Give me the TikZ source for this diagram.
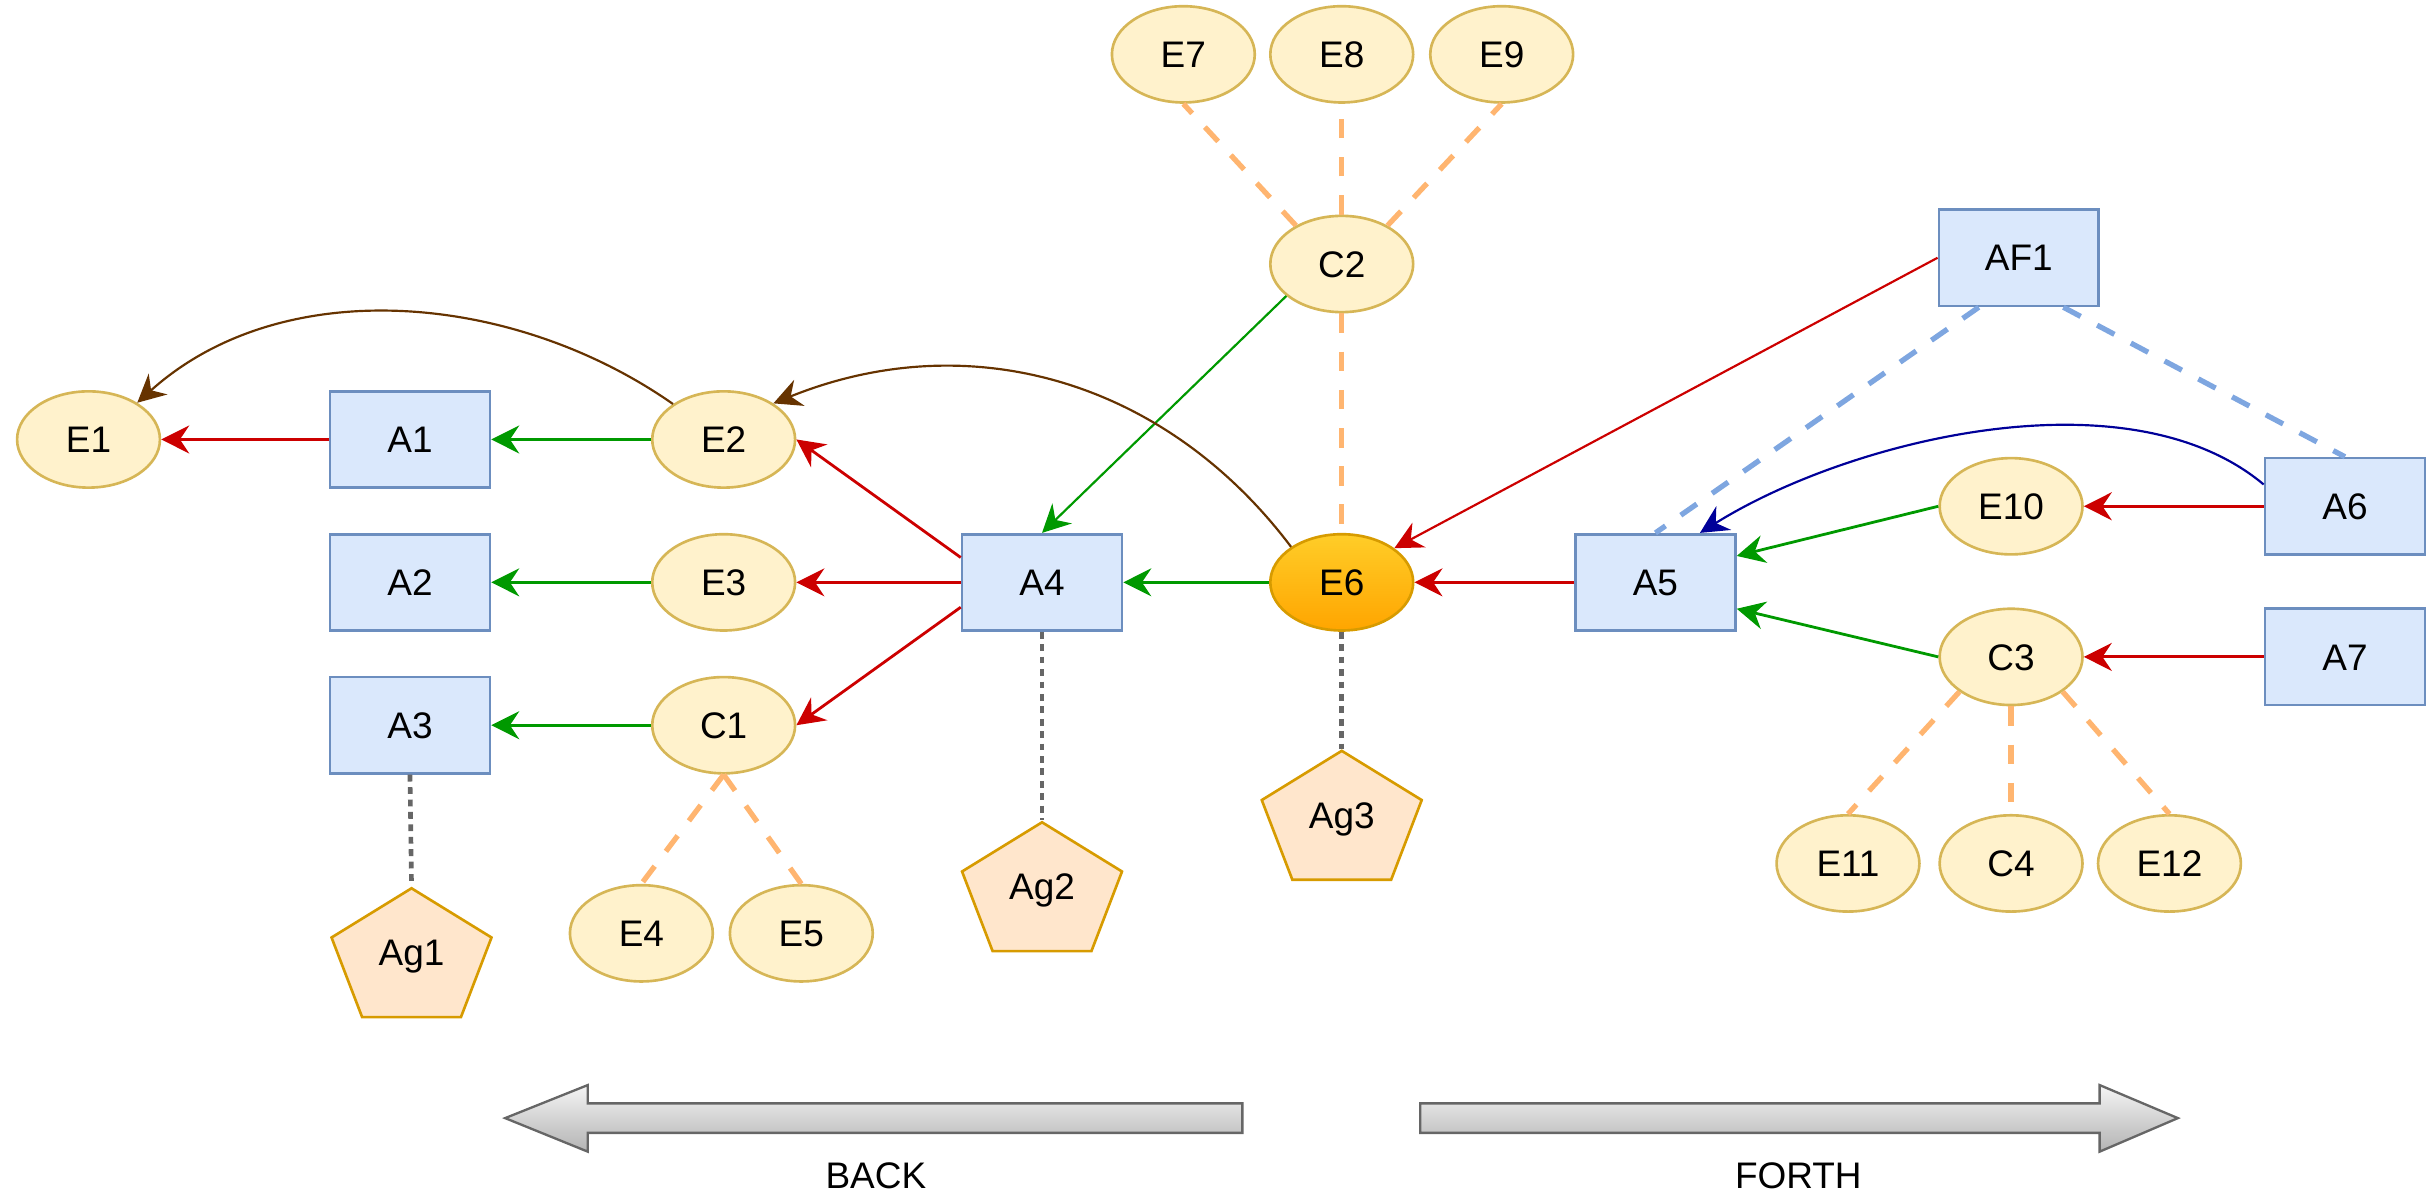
\documentclass[tikz,border=0pt]{standalone}
\usepackage{fontspec}
\setmainfont{Liberation Sans}
\usetikzlibrary{shapes.geometric}
\usetikzlibrary{positioning}
\usetikzlibrary{arrows.meta}

\definecolor{entfill}{HTML}{FFF2CC}
\definecolor{entline}{HTML}{D6B656}
\definecolor{actfill}{HTML}{DAE8FC}
\definecolor{actline}{HTML}{6C8EBF}
\definecolor{agfill}{HTML}{FFE6CC}
\definecolor{agline}{HTML}{D79B00}
\definecolor{hottop}{HTML}{FFCD28}
\definecolor{hotbot}{HTML}{FFA500}
\definecolor{arrred}{HTML}{CC0000}
\definecolor{arrgreen}{HTML}{009900}
\definecolor{arrbrown}{HTML}{663300}
\definecolor{arrblue}{HTML}{000099}
\definecolor{linkorange}{HTML}{FFB570}
\definecolor{linkblue}{HTML}{7EA6E0}
\definecolor{linkgray}{HTML}{666666}
\definecolor{bigtop}{HTML}{F5F5F5}
\definecolor{bigbot}{HTML}{B3B3B3}

\tikzset{node distance=46pt, % Distance between two rows
      every node/.style={ % Same text setting for each node
      font=\fontsize{11.9}{14}\selectfont,
      text height=8.5pt, text depth=0pt},
      ent/.style={ % Yellow ellipses
      ellipse, draw=entline, fill=entfill, line width=0.85pt,
      minimum width=46pt, minimum height=31pt, inner sep=0pt},
      hot/.style={ent, draw=agline, top color=hottop, bottom color=hotbot},
      act/.style={ % Blue boxes
      rectangle, draw=actline, fill=actfill, line width=0.85pt,
      minimum width=51.5pt, minimum height=31pt, inner sep=0pt},
      agent/.style={ % Pentagon drawn inside an invisible box
      rectangle, minimum width=52.4pt, minimum height=42.4pt, inner sep=0pt,
      path picture={\filldraw[draw=agline, fill=agfill, line width=0.85pt]
            ([yshift=20.75pt]path picture bounding box.center)
            -- ([shift={(25.75pt,4.9pt)}]path picture bounding box.center)
            -- ([shift={(15.9pt,-20.75pt)}]path picture bounding box.center)
            -- ([shift={(-15.9pt,-20.75pt)}]path picture bounding box.center)
            -- ([shift={(-25.75pt,4.9pt)}]path picture bounding box.center) -- cycle;}},
      every edge/.style={ % Sets the properties for each connector
            draw,
      ->,>={Stealth[length=9pt,width=9pt,inset=3pt]},
      line width=0.9pt},
      redarr/.style={draw=arrred},
      greenarr/.style={draw=arrgreen},
      thin/.style={line width=0.7pt},
      brownarr/.style={draw=arrbrown, thin},
      bluearr/.style={draw=arrblue, thin},
      orangelink/.style={-, draw=linkorange, line width=1.7pt, dash pattern=on 6.3pt off 6pt},
      bluelink/.style={-, draw=linkblue, line width=1.7pt, dash pattern=on 6.3pt off 6pt},
      graylink/.style={-, draw=linkgray, line width=1.5pt, dash pattern=on 2.2pt off 1.8pt},
      bigarrow/.style={top color=bigtop, bottom color=bigbot, draw=linkgray, line width=0.75pt}}

\begin{document}
\begin{tikzpicture}[x=0.5pt, y=0.5pt]
      \useasboundingbox (0,0) rectangle (1568,-770);
      % left part
      \node[ent] (E1) at (57,-283) {E1};
      \node[act] (A1) at (264,-283) {A1};
      \node[act, below of=A1] (A2) {A2};
      \node[act, below of=A2] (A3) {A3};
      \node[ent] (E2) at (466,-283) {E2};
      \node[ent, below of=E2] (E3) {E3};
      \node[ent, below of=E3] (C1) {C1};
      \node[ent] (E4) at (413,-601) {E4};
      \node[ent, right of=E4, node distance=51.5pt] (E5) {E5};
      \node[agent] (Ag1) at (265,-613.5) {Ag1};
      % middle part
      \node[act] (A4) at (671,-375) {A4};
      \node[agent] (Ag2) at (671,-571) {Ag2};
      \node[hot] (E6) at (864,-375) {E6};
      \node[agent] (Ag3) at (864,-525) {Ag3};
      \node[ent] (C2) at (864,-170) {C2};
      \node[ent] (E8) at (864,-35) {E8};
      \node[ent, left of=E8, node distance=51pt] (E7) {E7};
      \node[ent, right of=E8, node distance=51.5pt] (E9) {E9};
      % right part
      \node[act] (A5) at (1066,-375) {A5};
      \node[act] (AF1) at (1300,-166) {AF1};
      \node[ent] (E10) at (1295,-326) {E10};
      \node[act, right of=E10, node distance=107.5pt] (A6) {A6};
      \node[ent] (C3) at (1295,-423) {C3};
      \node[act, right of=C3, node distance=107.5pt] (A7) {A7};
      \node[ent] (C4) at (1295,-556) {C4};
      \node[ent, left of=C4, node distance=52.5pt] (E11) {E11};
      \node[ent, right of=C4, node distance=51pt] (E12) {E12};

      \draw (A1.west) edge[redarr] (E1.east)
            (E2.west) edge[greenarr] (A1.east)
            (E3.west) edge[greenarr] (A2.east)
            (C1.west) edge[greenarr] (A3.east)
            (A4.163) edge[redarr] (E2.east)
            (A4.west) edge[redarr] (E3.east)
            (A4.197) edge[redarr] (C1.east)
            (E6.west) edge[greenarr] (A4.east)
            (A5.west) edge[redarr] (E6.east)
            (C2.210) edge[greenarr, thin] (A4.north)
            (AF1.west) edge[redarr, thin] (E6.33)
            (E10.west) edge[greenarr] (A5.18)
            (C3.west) edge[greenarr] (A5.-18)
            (A6.west) edge[redarr] (E10.east)
            (A7.west) edge[redarr] (C3.east);
      \draw (E2.145) edge[brownarr, out=145, in=42, looseness=0.93] (E1.37)
            (E6.145) edge[brownarr, out=127, in=22] (E2.36)
            (A6.165) edge[bluearr, out=140, in=32, looseness=0.8] (A5.48);
      \draw (C2.140) edge[orangelink] (E7.south)
            (C2.north) edge[orangelink] (E8.south)
            (C2.40) edge[orangelink] (E9.south)
            (C2.south) edge[orangelink] (E6.north)
            (C1.south) edge[orangelink] (E4.north)
            (C1.south) edge[orangelink] (E5.north)
            (C3.214) edge[orangelink] (E11.north)
            (C3.south) edge[orangelink] (C4.north)
            (C3.-34) edge[orangelink] (E12.north);
      \draw (AF1.231) edge[bluelink] (A5.north)
            (AF1.-48) edge[bluelink] (A6.north);
      \draw (A3.south) edge[graylink] (Ag1.north)
            (A4.south) edge[graylink] (Ag2.north)
            (E6.south) edge[graylink] (Ag3.north);

      % back and forth
      \shade[bigarrow] (800,-710.5) -- (378.5,-710.5) -- (378.5,-698.7) -- (325.3,-720)
            -- (378.5,-741.6) -- (378.5,-729.5) -- (800,-729.5) -- cycle;
      \shade[bigarrow] (914.5,-710.5) -- (1352,-710.5) -- (1352,-698.7) -- (1402.4,-720)
            -- (1352,-741.6) -- (1352,-729.5) -- (914.5,-729.5) -- cycle;
      \node (back) at (564,-757) {BACK};
      \node (forth) at (1158,-757) {FORTH};
\end{tikzpicture}
\end{document}
